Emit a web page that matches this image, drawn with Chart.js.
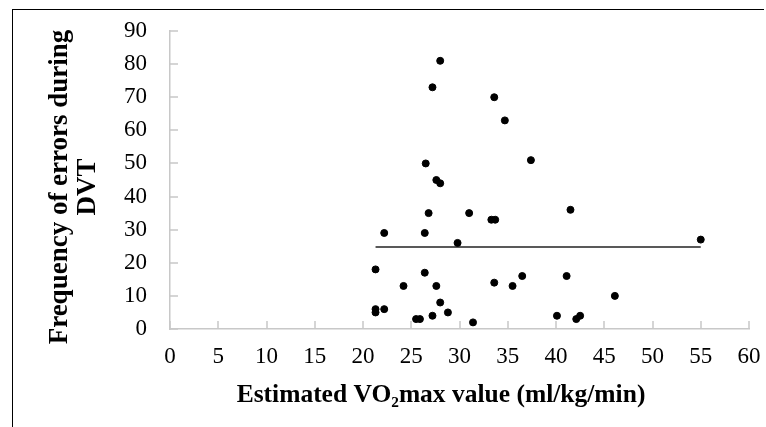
<!DOCTYPE html>
<html>
<head>
<meta charset="utf-8">
<script src="https://cdn.jsdelivr.net/npm/chart.js@4/dist/chart.umd.min.js"></script>
<style>
  html, body { margin: 0; padding: 0; background: #fff; }
  #wrap { position: relative; width: 766px; height: 427px; overflow: hidden; }
  #frame { position: absolute; left: 12px; top: 9px; width: 751px; height: 430px;
           border-top: 1.5px solid #000; border-left: 1.5px solid #000; pointer-events: none; }
  #chart { position: absolute; left: 0; top: 0; }
</style>
</head>
<body>
<div id="wrap">
  <canvas id="chart" width="766" height="427"></canvas>
  <div id="frame"></div>
</div>
<script>
Chart.defaults.color = '#000';
Chart.defaults.font.family = '"Liberation Serif", "Times New Roman", serif';

const axisColor = '#c8c8c8';

// VO2max (x) vs frequency of errors (y)
const vo2max = [28, 27.2, 33.6, 34.7, 37.4, 26.5, 27.6, 28, 26.8, 31,
  33.3, 33.7, 22.2, 26.4, 29.8, 21.3, 26.4, 24.2, 27.6, 33.6,
  35.5, 36.5, 28, 21.3, 21.3, 22.2, 25.5, 25.9, 27.2, 28.8,
  31.4, 40.1, 41.5, 55, 41.1, 46.1, 42.1, 42.5];
const errors = [81, 73, 70, 63, 51, 50, 45, 44, 35, 35,
  33, 33, 29, 29, 26, 18, 17, 13, 13, 14,
  13, 16, 8, 6, 5, 6, 3, 3, 4, 5,
  2, 4, 36, 27, 16, 10, 3, 4];

// linear trend line end points
const trendX = [21.3, 55];
const trendY = [24.8, 24.8];

const xTicks = [0, 5, 10, 15, 20, 25, 30, 35, 40, 45, 50, 55, 60];
const yTicks = [0, 10, 20, 30, 40, 50, 60, 70, 80, 90];

const xTitle = 'Estimated VO₂max value (ml/kg/min)';
const yTitle = ['Frequency of errors during', 'DVT'];

// small tick marks pointing into the plot area
const innerTicks = {
  id: 'innerTicks',
  afterDraw(chart) {
    const {ctx, chartArea, scales} = chart;
    ctx.save();
    ctx.strokeStyle = axisColor;
    ctx.lineWidth = 1.5;
    ctx.beginPath();
    xTicks.forEach(v => {
      const px = Math.round(scales.x.getPixelForValue(v));
      ctx.moveTo(px, chartArea.bottom);
      ctx.lineTo(px, chartArea.bottom - 8);
    });
    yTicks.forEach(v => {
      const py = Math.round(scales.y.getPixelForValue(v));
      ctx.moveTo(chartArea.left, py);
      ctx.lineTo(chartArea.left + 8, py);
    });
    ctx.stroke();
    ctx.restore();
  }
};

// axis titles, placed a bit off-centre like in the original figure
const axisTitles = {
  id: 'axisTitles',
  afterDraw(chart) {
    const ctx = chart.ctx;
    const fam = Chart.defaults.font.family;
    ctx.save();
    ctx.fillStyle = '#000';
    ctx.textAlign = 'center';
    ctx.textBaseline = 'middle';
    ctx.font = 'bold 25.5px ' + fam;
    ctx.fillText(xTitle, 441, 395);
    ctx.font = 'bold 27px ' + fam;
    ctx.translate(0, 187);
    ctx.rotate(-Math.PI / 2);
    yTitle.forEach((line, i) => ctx.fillText(line, 0, 60 + i * 28));
    ctx.restore();
  }
};

// the outer tick marks are kept invisible, they only space the labels
const hiddenGrid = len => ({
  display: true,
  drawOnChartArea: false,
  drawTicks: true,
  tickLength: len,
  color: 'rgba(0,0,0,0)'
});

new Chart(document.getElementById('chart'), {
  type: 'scatter',
  data: {
    datasets: [
      {
        label: 'errors',
        data: vo2max.map((x, i) => ({x: x, y: errors[i]})),
        backgroundColor: '#000',
        borderColor: '#000',
        pointRadius: 3.5,
        pointHoverRadius: 3.5
      },
      {
        type: 'line',
        label: 'trend',
        data: trendX.map((x, i) => ({x: x, y: trendY[i]})),
        borderColor: '#222',
        borderWidth: 1.5,
        pointRadius: 0,
        fill: false
      }
    ]
  },
  options: {
    responsive: false,
    animation: false,
    layout: { padding: { left: 0, top: 31, right: 17, bottom: 0 } },
    plugins: {
      legend: { display: false },
      tooltip: { enabled: false }
    },
    scales: {
      x: {
        type: 'linear',
        min: 0,
        max: 60,
        afterBuildTicks: s => { s.ticks = xTicks.map(v => ({value: v})); },
        afterFit: s => { s.height = 98; },
        grid: hiddenGrid(14),
        border: { color: axisColor, width: 1.5 },
        ticks: { padding: 0, font: { size: 23 }, maxRotation: 0 }
      },
      y: {
        min: 0,
        max: 90,
        afterBuildTicks: s => { s.ticks = yTicks.map(v => ({value: v})); },
        afterFit: s => { s.width = 170; },
        grid: hiddenGrid(23),
        border: { color: axisColor, width: 1.5 },
        ticks: { padding: 0, font: { size: 23 } }
      }
    }
  },
  plugins: [innerTicks, axisTitles]
});
</script>
</body>
</html>
